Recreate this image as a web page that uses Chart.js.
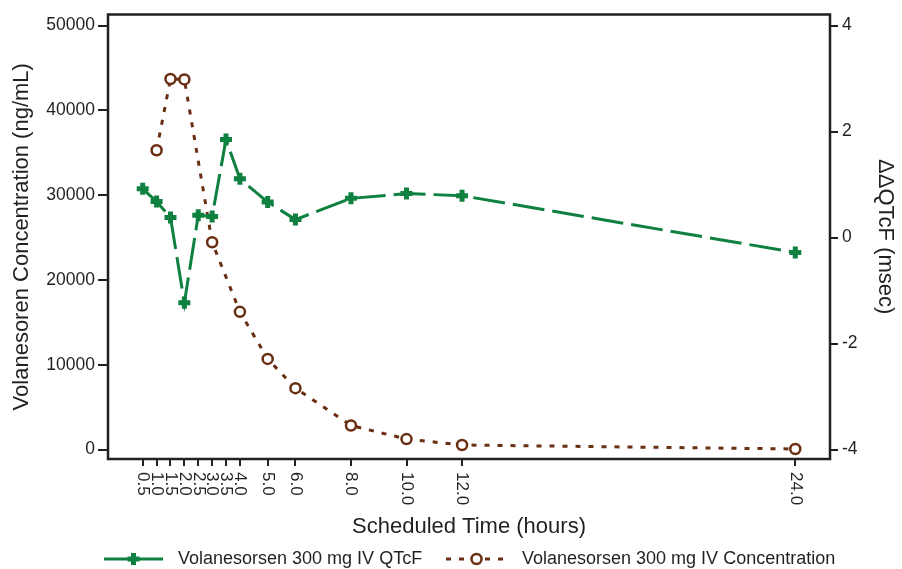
<!DOCTYPE html>
<html>
<head>
<meta charset="utf-8">
<script src="https://cdn.jsdelivr.net/npm/chart.js@4/dist/chart.umd.min.js"></script>
<style>
  html, body { margin: 0; padding: 0; background: #fff; }
  #wrap { width: 902px; height: 569px; }
</style>
</head>
<body>
<div id="wrap"><canvas id="chart"></canvas></div>
<script>
// Data
const qtcfTimes = [0.5, 1.0, 1.5, 2.0, 2.5, 3.0, 3.5, 4.0, 5.0, 6.0, 8.0, 10.0, 12.0, 24.0];
const qtcfValues = [0.92, 0.68, 0.38, -1.23, 0.42, 0.40, 1.85, 1.11, 0.67, 0.34, 0.74, 0.83, 0.79, -0.28];

const concTimes = [1.0, 1.5, 2.0, 3.0, 4.0, 5.0, 6.0, 8.0, 10.0, 12.0, 24.0];
const concValues = [35300, 43700, 43650, 24450, 16250, 10700, 7250, 2850, 1250, 550, 80];

const xTicks = [0.5, 1.0, 1.5, 2.0, 2.5, 3.0, 3.5, 4.0, 5.0, 6.0, 8.0, 10.0, 12.0, 24.0];
const leftTicks = [0, 10000, 20000, 30000, 40000, 50000];
const rightTicks = [-4, -2, 0, 2, 4];

const qtcfLabel = 'Volanesorsen 300 mg IV QTcF';
const concLabel = 'Volanesorsen 300 mg IV Concentration';

const GREEN = '#0e8040';
const BROWN = '#6a2e12';
const INK = '#231f20';
const FONT = '"Liberation Sans", Arial, Helvetica, sans-serif';

function toPoints(xs, ys) {
  return xs.map((x, i) => ({ x: x, y: ys[i] }));
}

// Frame, rotated x labels and the legend are drawn here
const extrasPlugin = {
  id: 'extras',
  afterDraw(chart) {
    const ctx = chart.ctx;
    const area = chart.chartArea;
    const xs = chart.scales.x;

    ctx.save();
    // box round the plot
    ctx.strokeStyle = INK;
    ctx.lineWidth = 2.5;
    ctx.setLineDash([]);
    ctx.strokeRect(area.left, area.top, area.right - area.left, area.bottom - area.top);

    // x tick labels, turned clockwise
    ctx.fillStyle = INK;
    ctx.font = '17px ' + FONT;
    ctx.textAlign = 'left';
    ctx.textBaseline = 'middle';
    xTicks.forEach(v => {
      const px = xs.getPixelForValue(v);
      ctx.save();
      ctx.translate(px, area.bottom + 13);
      ctx.rotate(Math.PI / 2);
      ctx.fillText(v.toFixed(1), 0, 0);
      ctx.restore();
    });

    // legend
    const ly = 559;
    const items = [
      { ds: chart.data.datasets[0], x0: 104, x1: 163, tx: 178, solid: true },
      { ds: chart.data.datasets[1], x0: 446, x1: 507, tx: 522, solid: false }
    ];
    items.forEach(it => {
      ctx.strokeStyle = it.ds.borderColor;
      ctx.lineWidth = it.ds.borderWidth;
      ctx.setLineDash(it.solid ? [] : it.ds.borderDash);
      ctx.beginPath();
      ctx.moveTo(it.x0, ly);
      ctx.lineTo(it.x1, ly);
      ctx.stroke();
      ctx.setLineDash([]);
      const cx = (it.x0 + it.x1) / 2;
      ctx.fillStyle = it.ds.pointBackgroundColor;
      ctx.strokeStyle = it.ds.pointBorderColor;
      ctx.lineWidth = it.ds.pointBorderWidth;
      ctx.beginPath();
      if (it.ds.pointStyle === 'circle') {
        ctx.arc(cx, ly, it.ds.pointRadius, 0, Math.PI * 2);
        ctx.fill();
        ctx.stroke();
      } else {
        ctx.moveTo(cx - it.ds.pointRadius, ly);
        ctx.lineTo(cx + it.ds.pointRadius, ly);
        ctx.moveTo(cx, ly - it.ds.pointRadius);
        ctx.lineTo(cx, ly + it.ds.pointRadius);
        ctx.stroke();
      }
      ctx.fillStyle = INK;
      ctx.font = '18px ' + FONT;
      ctx.textAlign = 'left';
      ctx.textBaseline = 'middle';
      ctx.fillText(it.ds.label, it.tx, ly);
    });
    ctx.restore();
  }
};

const ctx = document.getElementById('chart').getContext('2d');
new Chart(ctx, {
  type: 'line',
  data: {
    datasets: [{
      label: qtcfLabel,
      data: toPoints(qtcfTimes, qtcfValues),
      yAxisID: 'yRight',
      borderColor: GREEN,
      backgroundColor: GREEN,
      borderWidth: 3,
      borderDash: [32, 8],
      pointStyle: 'cross',
      pointRadius: 6,
      pointBorderWidth: 5,
      pointBorderColor: GREEN,
      pointBackgroundColor: GREEN,
      tension: 0
    }, {
      label: concLabel,
      data: toPoints(concTimes, concValues),
      yAxisID: 'yLeft',
      borderColor: BROWN,
      backgroundColor: BROWN,
      borderWidth: 3,
      borderDash: [5, 8],
      pointStyle: 'circle',
      pointRadius: 5,
      pointBorderWidth: 2.5,
      pointBorderColor: BROWN,
      pointBackgroundColor: '#ffffff',
      tension: 0
    }]
  },
  options: {
    responsive: true,
    maintainAspectRatio: false,
    animation: false,
    layout: { padding: { top: 13, left: 0, right: 0, bottom: 26 } },
    plugins: {
      legend: { display: false },
      tooltip: { enabled: false }
    },
    scales: {
      x: {
        type: 'linear',
        min: -0.75,
        max: 25.25,
        afterBuildTicks: s => { s.ticks = xTicks.map(v => ({ value: v })); },
        afterFit: s => { s.height = 84; },
        border: { display: false },
        grid: { drawOnChartArea: false, drawTicks: true, tickLength: 7, color: INK, lineWidth: 2 },
        ticks: { display: false },
        title: {
          display: true,
          text: 'Scheduled Time (hours)',
          color: INK,
          font: { family: FONT, size: 22 },
          padding: { top: 0, bottom: 3 }
        }
      },
      yLeft: {
        type: 'linear',
        position: 'left',
        min: -1100,
        max: 51300,
        afterBuildTicks: s => { s.ticks = leftTicks.map(v => ({ value: v })); },
        afterFit: s => { s.width = 108; },
        border: { display: false },
        grid: { drawOnChartArea: false, drawTicks: true, tickLength: 10, color: INK, lineWidth: 2 },
        ticks: {
          color: INK,
          padding: 3,
          font: { family: FONT, size: 17.5 },
          callback: v => String(v)
        },
        title: {
          display: true,
          text: 'Volanesoren Concentration (ng/mL)',
          color: INK,
          font: { family: FONT, size: 22 },
          padding: { top: 9, bottom: 0 }
        }
      },
      yRight: {
        type: 'linear',
        position: 'right',
        min: -4.176,
        max: 4.208,
        afterBuildTicks: s => { s.ticks = rightTicks.map(v => ({ value: v })); },
        afterFit: s => { s.width = 72; },
        border: { display: false },
        grid: { drawOnChartArea: false, drawTicks: true, tickLength: 8, color: INK, lineWidth: 2 },
        ticks: {
          color: INK,
          padding: 4,
          font: { family: FONT, size: 17.5 },
          callback: v => String(v)
        },
        title: {
          display: true,
          text: 'ΔΔQTcF (msec)',
          color: INK,
          font: { family: FONT, size: 22 },
          padding: { top: 4, bottom: 0 }
        }
      }
    }
  },
  plugins: [extrasPlugin]
});
</script>
</body>
</html>
